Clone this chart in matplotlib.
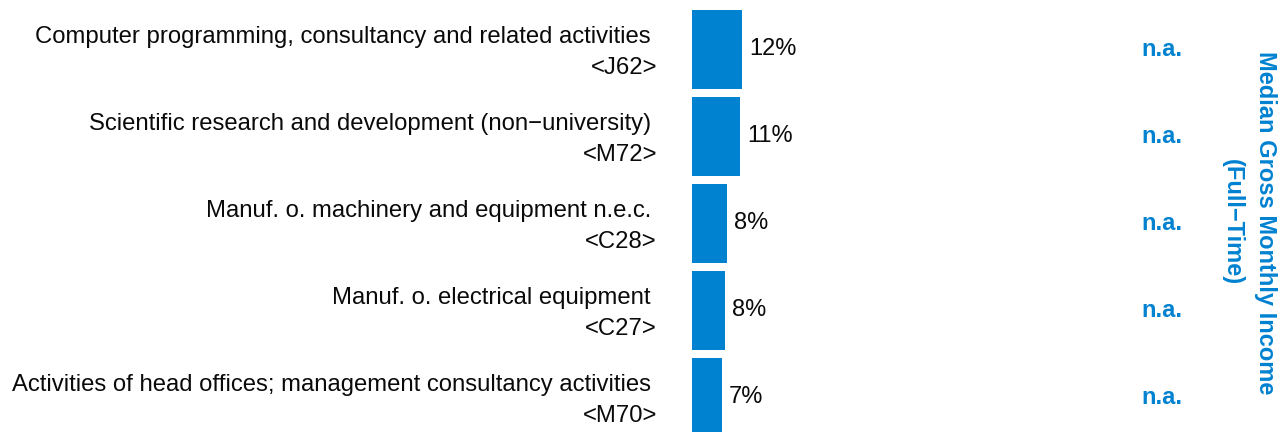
import matplotlib.pyplot as plt
from matplotlib.transforms import blended_transform_factory

plt.rcParams['font.family'] = ['Liberation Sans', 'DejaVu Sans']

# data
industries = [
    "Computer programming, consultancy and related activities",
    "Scientific research and development (non\u2212university)",
    "Manuf. o. machinery and equipment n.e.c.",
    "Manuf. o. electrical equipment ",
    "Activities of head offices; management consultancy activities",
]
codes = ["<J62>", "<M72>", "<C28>", "<C27>", "<M70>"]
shares = [12.0, 11.5, 8.4, 7.9, 7.2]
share_labels = ["12%", "11%", "8%", "8%", "7%"]
income_labels = ["n.a.", "n.a.", "n.a.", "n.a.", "n.a."]

blue = '#0082d1'
W, H = 1284, 432

fig = plt.figure(figsize=(W / 100, H / 100), dpi=100)
ax = fig.add_axes([692 / W, 0, 1 - 692 / W, 1])
ypos = list(range(len(shares)))
ax.barh(ypos, shares, height=0.91, color=blue)
ax.set_xlim(0, (W - 692) / 4.17)
ax.set_ylim(4.397, -0.569)
ax.axis('off')

tr = blended_transform_factory(fig.transFigure, ax.transData)
for i, (name, code) in enumerate(zip(industries, codes)):
    # industry name on first line, NACE code below it
    ax.text(651 / W, i - 0.14, name.rstrip(), transform=tr, ha='right', va='center',
            fontsize=17.2, color='#0a0a0a')
    ax.text(657 / W, i + 0.215, code, transform=tr, ha='right', va='center',
            fontsize=17.2, color='#0a0a0a')
    ax.text(shares[i] + 1.7, i, share_labels[i], ha='left', va='center',
            fontsize=17, color='#0a0a0a')
    ax.text(1162 / W, i, income_labels[i], transform=tr, ha='center', va='center',
            fontsize=17, fontweight='bold', color=blue)

fig.text(1249 / W, 0.485, "Median Gross Monthly Income\n(Full\u2212Time)", rotation=270,
         ha='center', va='center', fontsize=17, fontweight='bold', color=blue,
         linespacing=1.55)

fig.savefig('out.png', dpi=100)
